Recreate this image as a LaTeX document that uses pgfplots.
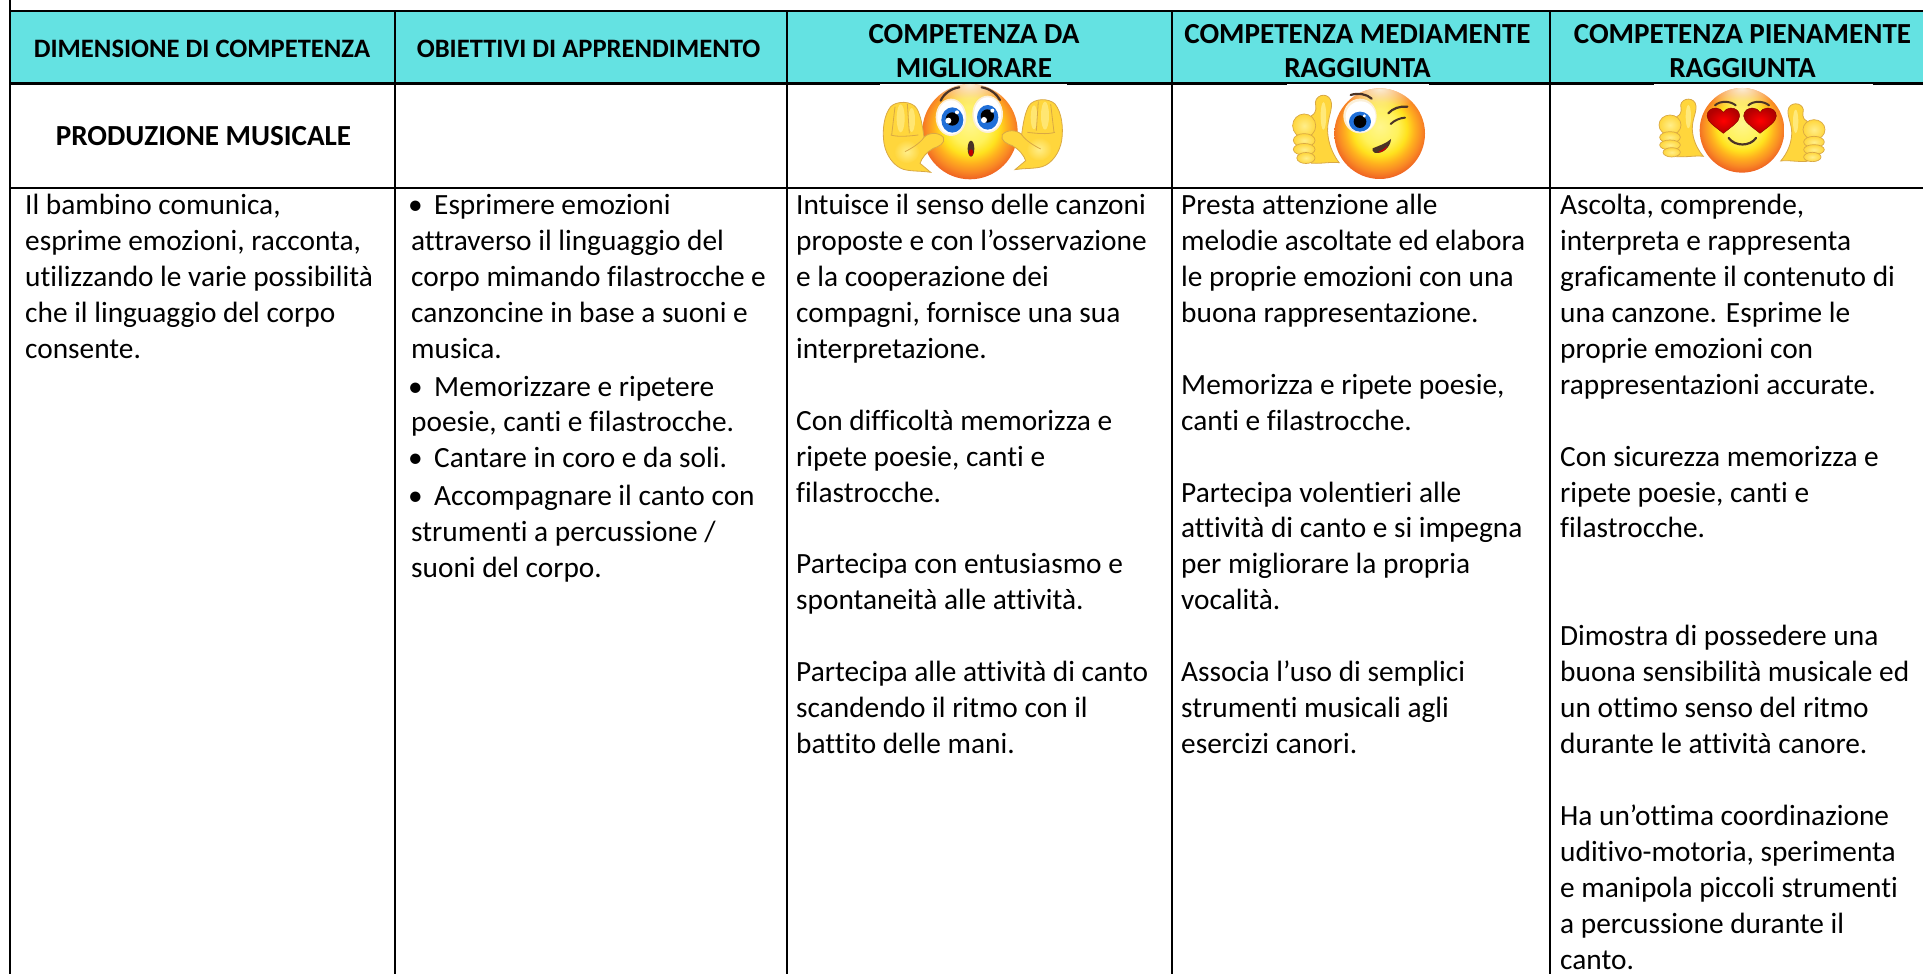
\documentclass[border=0pt]{standalone}
\usepackage{fontspec}
\setmainfont{Carlito}[Ligatures=NoCommon]
\usepackage{pgfplots}
\pgfplotsset{compat=1.18}
\usetikzlibrary{fadings}
\tikzfading[name=soft out,inner color=transparent!0,outer color=transparent!100]
\definecolor{hdr}{HTML}{64E2E2}
\definecolor{skin}{HTML}{FFD63C}
\definecolor{skinl}{HTML}{FFEE8A}
\definecolor{skino}{HTML}{D9A844}
\definecolor{brow}{HTML}{4A3326}
\definecolor{pale}{HTML}{FBEFD8}
\definecolor{iris}{HTML}{1F6FD8}
\definecolor{fa}{HTML}{FFF68E}
\definecolor{fb}{HTML}{FFF25C}
\definecolor{fc}{HTML}{FFE21E}
\definecolor{fd}{HTML}{FFB21E}
\definecolor{fe}{HTML}{F98A24}
\definecolor{ff}{HTML}{EE5F22}
\newcommand\body{\fontsize{29.45}{36}\selectfont}
\newcommand\tl[3]{\node[anchor=base west,inner sep=0pt,font=\body] at (axis cs:#1,{214.5+35.94*#2}) {#3};}
\newcommand\hd[4]{\node[anchor=base,inner sep=0pt,font=\fontsize{#4}{30}\selectfont\bfseries] at (axis cs:#1,#2) {#3};}
% radial face shading: the central 50bp square covers the path
\pgfdeclareradialshading{face}{\pgfpoint{0bp}{4bp}}{
 color(0bp)=(fa);
 color(10bp)=(fb);
 color(15bp)=(fc);
 color(19bp)=(fd);
 color(23bp)=(fe);
 color(27bp)=(ff);
 color(50bp)=(ff)}
\newcommand\face[3]{% cx cy r
 \begin{scope}
 \clip (#1,#2) circle [radius=#3];
 \shade[shading=face] (#1,#2) circle [radius=#3];
 \fill[pale,path fading=soft out] (#1,{#2-#3}) ellipse [x radius={#3*0.85},y radius={#3*0.55}];
 \end{scope}}
\newcommand\lobe[4]{\shade[inner color=skinl,outer color=skin,draw=skino,line width=0.7bp] (#1,#2) ellipse [x radius=#3,y radius=#4];}
% open palm, in the coordinates of the left hand of the first emoji
\newcommand\palm{%
 \path[fill=skin,draw=skino,line width=0.8bp]
 (182,277) .. controls (150,272) and (125,275) .. (100,268)
 .. controls (70,258) and (48,225) .. (42,190)
 .. controls (36,150) and (42,105) .. (62,80)
 .. controls (80,62) and (125,62) .. (140,85)
 .. controls (152,105) and (158,140) .. (162,172)
 .. controls (175,158) and (205,155) .. (220,172)
 .. controls (228,190) and (205,200) .. (190,205)
 .. controls (170,215) and (155,235) .. (150,250) -- cycle;
 \shade[inner color=skinl,outer color=skin] (110,215) ellipse [x radius=38,y radius=35];
 \fill[skinl,opacity=.7] (92,115) ellipse [x radius=12,y radius=42];
 \fill[skinl,opacity=.7] (125,120) ellipse [x radius=10,y radius=36];
 \draw[skino,line width=0.8bp] (75,80) -- (65,165);
 \draw[skino,line width=0.8bp] (112,72) -- (118,160);
 \draw[skino,line width=0.8bp] (62,165) .. controls (85,172) and (120,168) .. (145,165);
 \draw[skino,line width=0.8bp] (162,172) .. controls (150,190) and (125,205) .. (105,215);
}
% thumb-up hand, in the coordinates of the left hand of the third emoji
\newcommand\thumbhand{%
 \path[fill=skin,draw=skino,line width=0.8bp]
 (250,229) .. controls (225,226) and (205,232) .. (170,230)
 -- (170,110) .. controls (190,100) and (182,85) .. (182,75)
 .. controls (186,52) and (225,50) .. (228,78)
 .. controls (230,100) and (212,125) .. (218,160)
 .. controls (222,190) and (238,215) .. (250,229) -- cycle;
 \fill[skinl,opacity=.8] (205,110) ellipse [x radius=8,y radius=35];
 \lobe{150}{135}{33}{30}
 \lobe{150}{172}{31}{17}
 \lobe{150}{195}{31}{15}
 \lobe{155}{217}{26}{14}
}
\begin{document}
\begin{tikzpicture}[x=1bp,y=1bp]
\path[use as bounding box] (0,0) rectangle (1923bp,974bp);
\begin{axis}[at={(0,0)},anchor=south west,scale only axis,width=1923bp,height=974bp,
 xmin=0,xmax=1923,ymin=0,ymax=974,y dir=reverse,hide axis,clip=true]
% header band
\addplot[fill=hdr,draw=none,no marks,forget plot] coordinates {(10,11) (1923,11) (1923,83) (10,83)} -- cycle;
% rules
\pgfplotsset{rule/.style={black,no marks,line width=2.7bp,forget plot}}
\addplot[rule] coordinates {(10,0) (10,974)};
\addplot[rule] coordinates {(395,11) (395,974)};
\addplot[rule] coordinates {(787,11) (787,974)};
\addplot[rule] coordinates {(1172,11) (1172,974)};
\addplot[rule] coordinates {(1550,11) (1550,974)};
\addplot[rule] coordinates {(9,11) (1923,11)};
\addplot[rule] coordinates {(9,83.5) (1923,83.5)};
\addplot[rule] coordinates {(9,188) (1923,188)};
% header
\hd{202}{58}{DIMENSIONE DI COMPETENZA}{26.7}
\hd{588.5}{58}{OBIETTIVI DI APPRENDIMENTO}{26.7}
\hd{974}{43.5}{COMPETENZA DA}{29.2}
\hd{974}{77.5}{MIGLIORARE}{29.2}
\hd{1357.5}{43.5}{COMPETENZA MEDIAMENTE}{29.2}
\hd{1357.5}{77.5}{RAGGIUNTA}{29.2}
\hd{1742.5}{43.5}{COMPETENZA PIENAMENTE}{29.2}
\hd{1742.5}{77.5}{RAGGIUNTA}{29.2}
\hd{203.5}{146}{PRODUZIONE MUSICALE}{29.2}
% column 1
\tl{25}{0}{Il bambino comunica,}
\tl{25}{1}{esprime emozioni, racconta,}
\tl{25}{2}{utilizzando le varie possibilità}
\tl{25}{3}{che il linguaggio del corpo}
\tl{25}{4}{consente.}
% column 2
\tl{408}{0}{•}\tl{434}{0}{Esprimere emozioni}
\tl{411}{1}{attraverso il linguaggio del}
\tl{411}{2}{corpo mimando filastrocche e}
\tl{411}{3}{canzoncine in base a suoni e}
\tl{411}{4}{musica.}
\tl{408}{5.05}{•}\tl{434}{5.05}{Memorizzare e ripetere}
\tl{411}{6.05}{poesie, canti e filastrocche.}
\tl{408}{7.05}{•}\tl{434}{7.05}{Cantare in coro e da soli.}
\tl{408}{8.1}{•}\tl{434}{8.1}{Accompagnare il canto con}
\tl{411}{9.1}{strumenti a percussione /}
\tl{411}{10.1}{suoni del corpo.}
% column 3
\tl{796}{0}{Intuisce il senso delle canzoni}
\tl{796}{1}{proposte e con l’osservazione}
\tl{796}{2}{e la cooperazione dei}
\tl{796}{3}{compagni, fornisce una sua}
\tl{796}{4}{interpretazione.}
\tl{796}{6}{Con difficoltà memorizza e}
\tl{796}{7}{ripete poesie, canti e}
\tl{796}{8}{filastrocche.}
\tl{796}{10}{Partecipa con entusiasmo e}
\tl{796}{11}{spontaneità alle attività.}
\tl{796}{13}{Partecipa alle attività di canto}
\tl{796}{14}{scandendo il ritmo con il}
\tl{796}{15}{battito delle mani.}
% column 4
\tl{1181}{0}{Presta attenzione alle}
\tl{1181}{1}{melodie ascoltate ed elabora}
\tl{1181}{2}{le proprie emozioni con una}
\tl{1181}{3}{buona rappresentazione.}
\tl{1181}{5}{Memorizza e ripete poesie,}
\tl{1181}{6}{canti e filastrocche.}
\tl{1181}{8}{Partecipa volentieri alle}
\tl{1181}{9}{attività di canto e si impegna}
\tl{1181}{10}{per migliorare la propria}
\tl{1181}{11}{vocalità.}
\tl{1181}{13}{Associa l’uso di semplici}
\tl{1181}{14}{strumenti musicali agli}
\tl{1181}{15}{esercizi canori.}
% column 5
\tl{1560}{0}{Ascolta, comprende,}
\tl{1560}{1}{interpreta e rappresenta}
\tl{1560}{2}{graficamente il contenuto di}
\tl{1560}{3}{una canzone. Esprime le}
\tl{1560}{4}{proprie emozioni con}
\tl{1560}{5}{rappresentazioni accurate.}
\tl{1560}{7}{Con sicurezza memorizza e}
\tl{1560}{8}{ripete poesie, canti e}
\tl{1560}{9}{filastrocche.}
\tl{1560}{12}{Dimostra di possedere una}
\tl{1560}{13}{buona sensibilità musicale ed}
\tl{1560}{14}{un ottimo senso del ritmo}
\tl{1560}{15}{durante le attività canore.}
\tl{1560}{17}{Ha un’ottima coordinazione}
\tl{1560}{18}{uditivo-motoria, sperimenta}
\tl{1560}{19}{e manipola piccoli strumenti}
\tl{1560}{20}{a percussione durante il}
\tl{1560}{21}{canto.}
\end{axis}
% --- emoji one
\begin{scope}[shift={(870bp,894bp)},x=0.33333bp,y=-0.33333bp]
 \fill[white] (30,11) rectangle (590,16);
 \face{300}{155}{143}
 \fill[pale] (243,112) ellipse [x radius=46,y radius=56];
 \fill[white] (243,112) ellipse [x radius=41,y radius=51];
 \fill[pale] (353,103) ellipse [x radius=46,y radius=56];
 \fill[white] (353,103) ellipse [x radius=41,y radius=51];
 \fill[iris] (247,120) ellipse [x radius=33,y radius=38];
 \fill[iris] (353,112) ellipse [x radius=32,y radius=37];
 \fill[black] (247,117) circle [radius=20];
 \fill[black] (352,108) circle [radius=20];
 \fill[white] (261,97) circle [radius=6];
 \fill[white] (235,122) circle [radius=9];
 \fill[white] (367,92) circle [radius=6];
 \fill[white] (342,120) circle [radius=9];
 \draw[brow,line width=2.2bp,line cap=round] (212,62) .. controls (222,40) and (245,25) .. (268,22);
 \draw[brow,line width=2.2bp,line cap=round] (335,22) .. controls (360,26) and (380,42) .. (390,60);
 \fill[brow] (303,206) ellipse [x radius=10,y radius=24];
 \fill[red!75!black] (303,218) ellipse [x radius=7,y radius=10];
 \palm
 \begin{scope}[shift={(617,-8)},xscale=-1]\palm\end{scope}
\end{scope}
% --- emoji two
\begin{scope}[shift={(1270bp,894bp)},x=0.33333bp,y=-0.33333bp]
 \fill[white] (50,11) rectangle (478,16);
 \face{329}{161}{136}
 \fill[pale] (270,108) ellipse [x radius=50,y radius=52];
 \fill[white] (272,110) ellipse [x radius=45,y radius=46];
 \fill[iris] (270,125) ellipse [x radius=33,y radius=30];
 \fill[black] (270,125) circle [radius=19];
 \fill[white] (283,108) circle [radius=5];
 \draw[brow,line width=2.2bp,line cap=round] (242,45) .. controls (265,38) and (290,42) .. (305,56);
 \draw[brow,line width=2.2bp,line cap=round] (355,100) .. controls (368,85) and (390,78) .. (412,80);
 \draw[brow,line width=2bp,line cap=round] (362,132) .. controls (375,120) and (390,114) .. (405,113);
 \path[fill=brow] (308,205) .. controls (325,198) and (350,190) .. (363,177) .. controls (362,200) and (340,222) .. (315,219) .. controls (308,216) and (306,210) .. (308,205) -- cycle;
 \path[fill=red!80!black] (322,217) .. controls (335,212) and (345,205) .. (352,198) .. controls (348,210) and (335,219) .. (322,217) -- cycle;
 \begin{scope}[shift={(-55,-22)},xscale=1.05,yscale=1.18]\thumbhand\end{scope}
\end{scope}
% --- emoji three
\begin{scope}[shift={(1620bp,894bp)},x=0.33333bp,y=-0.33333bp]
 \fill[white] (102,11) rectangle (760,16);
 \face{366}{151}{127}
 \draw[brow,line width=2bp,line cap=round] (285,76) .. controls (300,62) and (330,62) .. (347,76);
 \draw[brow,line width=2bp,line cap=round] (385,76) .. controls (400,62) and (430,62) .. (447,76);
 \foreach \hx in {310,420}{
 \begin{scope}[shift={(\hx,0)}]
 \shade[inner color=red,outer color=red!70!black,draw=red!50!black,line width=0.4bp]
 (0,160) .. controls (-25,140) and (-49,125) .. (-49,108) .. controls (-49,92) and (-36,84) .. (-22,84) .. controls (-12,84) and (-4,90) .. (0,97) .. controls (4,90) and (12,84) .. (22,84) .. controls (36,84) and (49,92) .. (49,108) .. controls (49,125) and (25,140) .. (0,160) -- cycle;
 \end{scope}}
 \draw[brow,line width=2.2bp,line cap=round] (326,174) .. controls (345,200) and (390,200) .. (408,174);
 \thumbhand
 \begin{scope}[shift={(732,14)},xscale=-1]\thumbhand\end{scope}
\end{scope}
\end{tikzpicture}
\end{document}
